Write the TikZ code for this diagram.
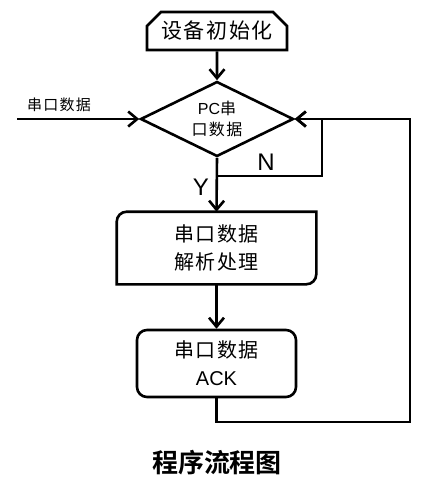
\documentclass[tikz,border=0pt]{standalone}
\usepackage{fontspec}
\setmainfont{Liberation Sans}
\newfontfamily\cjk{Noto Sans CJK SC}[LetterSpace=8]
\newfontfamily\titlefont{Noto Sans CJK SC}[BoldFont={* Bold}]
\usetikzlibrary{shapes.geometric,shapes.misc,arrows.meta}

\begin{document}
\begin{tikzpicture}
      [
      x=1pt,y=1pt,line width=2.6pt,
      >={Straight Barb[length=9pt,width=15pt]},
      startbox/.style={chamfered rectangle,chamfered rectangle corners={north west,north east},
        chamfered rectangle xsep=7pt,chamfered rectangle ysep=7pt,draw,inner sep=0pt,
        minimum width=140pt,minimum height=38pt,font=\fontsize{21}{24}\selectfont},
      decision/.style={diamond,draw,aspect=2,inner sep=0pt,minimum width=153pt,minimum height=75pt,
        align=center,font=\fontsize{16}{21}\selectfont},
      procbox/.style={rectangle,inner sep=0pt,minimum width=197pt,minimum height=70pt,
        align=center,font=\fontsize{20}{28}\selectfont},
      ackbox/.style={rectangle,draw,rounded corners=10pt,inner sep=0pt,minimum width=159pt,
        minimum height=67pt,align=center,font=\fontsize{20}{28}\selectfont},
      branch/.style={font=\fontsize{24}{26}\selectfont}
      ]
      \useasboundingbox (0,0) rectangle (432,-483);
      \node (init) at (217,-31) [startbox] {\cjk 设备初始化};
      \node (check) at (217,-119) [decision] {PC{\cjk 串}\\{\cjk 口数据}};
      \node (parse) at (216.5,-248) [procbox] {{\cjk 串口数据}\\{\cjk 解析处理}};
      \node (ack) at (216.5,-363.5) [ackbox] {{\cjk 串口数据}\\ACK};
      \node (title) at (217,-463) [font=\titlefont\bfseries\fontsize{26}{28}\selectfont] {程序流程图};
      % process box: two rounded corners
      \draw (parse.south west) -- ([yshift=-10pt]parse.north west)
        arc[start angle=180,end angle=90,radius=10pt] -- (parse.north east)
        -- ([yshift=10pt]parse.south east) arc[start angle=0,end angle=-90,radius=10pt] -- cycle;
      \coordinate (inpt) at (17,-119);
      \coordinate (nfork) at (217,-176);
      \coordinate (nright) at (322,-119);
      \coordinate (loopbot) at (410,-422);
      \node (inlabel) at (59,-105) [font=\cjk\fontsize{15}{18}\selectfont] {串口数据};
      \node (no) at (266,-162) [branch] {N};
      \node (yes) at (201,-187) [branch] {Y};
      \draw [->] (init) to (check);
      \draw [->] (inpt) to (check.west);
      \draw [->] (check.south) to (parse.north);
      \draw [->] (parse.south) to (ack.north);
      \draw [->] (nfork) -| (nright) -- (check.east);
      \draw [->] (ack.south) |- (loopbot) |- (check.east);
    \end{tikzpicture}
\end{document}
